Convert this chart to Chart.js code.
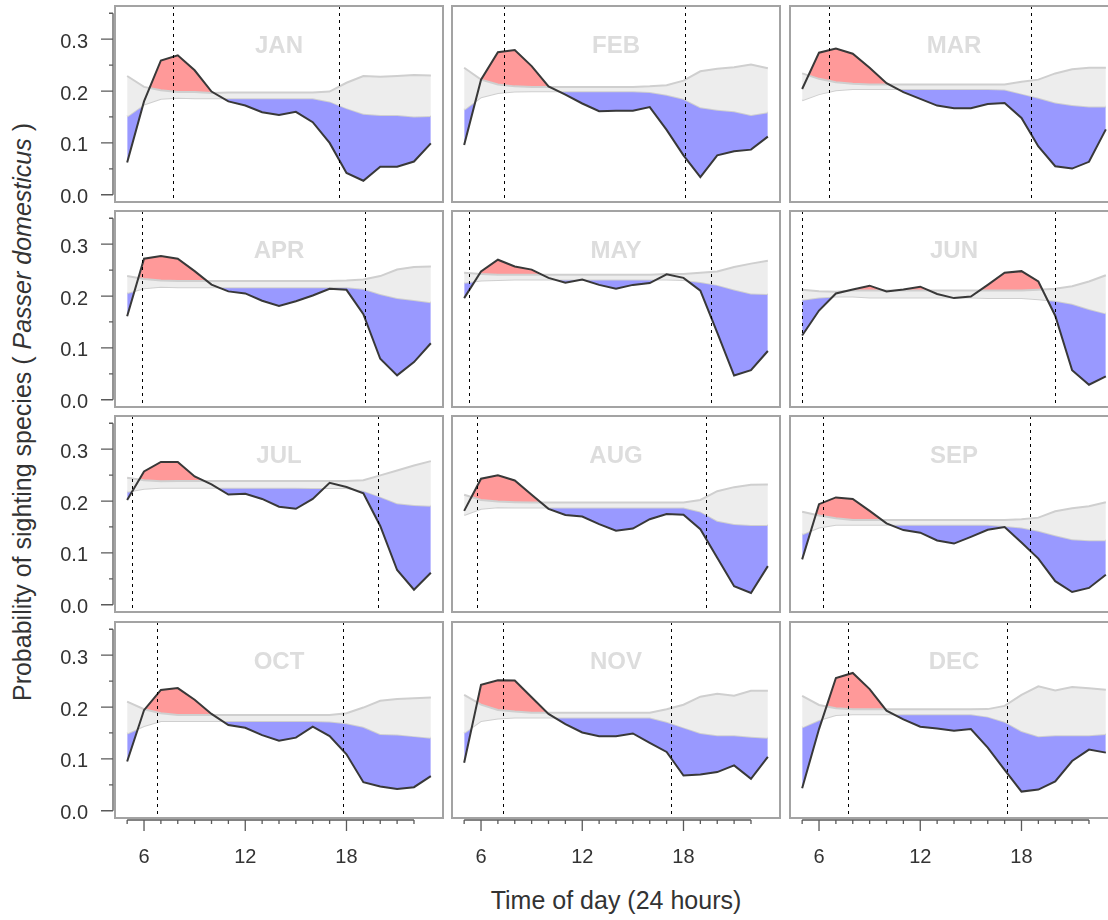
<!DOCTYPE html>
<html>
<head>
<meta charset="utf-8">
<script src="https://cdn.jsdelivr.net/npm/chart.js@4.4.1/dist/chart.umd.min.js"></script>
<style>
  html, body { margin: 0; padding: 0; background: #fff; overflow: hidden; }
  #wrap { position: relative; width: 1108px; height: 920px; overflow: hidden; }
  #wrap canvas { position: absolute; }
  .title { position: absolute; font-family: "Liberation Sans", Arial, sans-serif; font-size: 25px; color: #333; text-align: center; white-space: nowrap; }
  #xtitle { left: 316px; top: 888px; width: 600px; line-height: 25px; }
  #ytitle { left: -328px; top: 397px; width: 700px; height: 30px; line-height: 30px; transform: rotate(-90deg); }
</style>
</head>
<body>
<div id="wrap">
  <div class="title" id="xtitle">Time of day (24 hours)</div>
  <div class="title" id="ytitle">Probability of sighting species ( <i>Passer domesticus</i> )</div>
</div>
<script>
const hours = [5, 6, 7, 8, 9, 10, 11, 12, 13, 14, 15, 16, 17, 18, 19, 20, 21, 22, 23];
const months = ['JAN', 'FEB', 'MAR', 'APR', 'MAY', 'JUN', 'JUL', 'AUG', 'SEP', 'OCT', 'NOV', 'DEC'];
const sunrise = [7.69, 7.34, 6.6, 5.87, 5.26, 5.02, 5.26, 5.75, 6.23, 6.74, 7.28, 7.71];
const sunset = [17.54, 18.1, 18.57, 19.08, 19.62, 19.97, 19.86, 19.33, 18.53, 17.8, 17.25, 17.17];

const yMajor = [0, 0.1, 0.2, 0.3];
const yMinor = [0.05, 0.15, 0.25, 0.35];
const xMajor = [6, 12, 18];
const xMinor = [5, 7, 8, 9, 10, 11, 13, 14, 15, 16, 17, 19, 20, 21, 22];

// observed probability, and upper / lower limits of the null band
const obsJAN = [0.062, 0.18, 0.259, 0.269, 0.240, 0.199, 0.180, 0.172, 0.159, 0.154, 0.160, 0.140, 0.100, 0.042, 0.027, 0.054, 0.054, 0.064, 0.099];
const upJAN  = [0.229, 0.208, 0.2015, 0.198, 0.198, 0.196, 0.197, 0.197, 0.197, 0.197, 0.197, 0.197, 0.199, 0.216, 0.229, 0.2275, 0.229, 0.231, 0.230];
const loJAN  = [0.151, 0.174, 0.185, 0.187, 0.186, 0.186, 0.186, 0.186, 0.186, 0.186, 0.186, 0.186, 0.180, 0.167, 0.156, 0.154, 0.154, 0.151, 0.152];

const obsFEB = [0.096, 0.222, 0.275, 0.279, 0.248, 0.209, 0.193, 0.176, 0.161, 0.162, 0.162, 0.169, 0.125, 0.076, 0.034, 0.076, 0.084, 0.087, 0.112];
const upFEB  = [0.245, 0.222, 0.2125, 0.209, 0.208, 0.208, 0.208, 0.208, 0.208, 0.208, 0.208, 0.209, 0.211, 0.220, 0.238, 0.243, 0.246, 0.251, 0.244];
const loFEB  = [0.164, 0.188, 0.196, 0.199, 0.1995, 0.1995, 0.1995, 0.1995, 0.1995, 0.1995, 0.1995, 0.198, 0.193, 0.185, 0.1685, 0.164, 0.161, 0.154, 0.159];

const obsMAR = [0.204, 0.274, 0.282, 0.272, 0.245, 0.215, 0.198, 0.185, 0.172, 0.167, 0.167, 0.175, 0.177, 0.148, 0.093, 0.055, 0.0505, 0.0635, 0.126];
const upMAR  = [0.234, 0.2235, 0.217, 0.214, 0.2125, 0.2125, 0.2125, 0.2125, 0.2125, 0.2125, 0.2125, 0.2125, 0.2125, 0.218, 0.222, 0.234, 0.242, 0.245, 0.245];
const loMAR  = [0.182, 0.194, 0.2015, 0.204, 0.204, 0.204, 0.204, 0.204, 0.204, 0.204, 0.204, 0.204, 0.203, 0.195, 0.187, 0.178, 0.173, 0.170, 0.170];

const obsAPR = [0.161, 0.272, 0.277, 0.272, 0.248, 0.222, 0.209, 0.205, 0.191, 0.181, 0.190, 0.201, 0.214, 0.212, 0.165, 0.079, 0.047, 0.0726, 0.109];
const upAPR  = [0.2385, 0.233, 0.230, 0.229, 0.229, 0.229, 0.229, 0.229, 0.229, 0.229, 0.229, 0.229, 0.229, 0.230, 0.232, 0.2385, 0.251, 0.256, 0.257];
const loAPR  = [0.206, 0.215, 0.218, 0.217, 0.217, 0.217, 0.217, 0.217, 0.217, 0.217, 0.217, 0.217, 0.217, 0.217, 0.214, 0.204, 0.196, 0.1925, 0.188];

const obsMAY = [0.196, 0.2475, 0.270, 0.257, 0.251, 0.235, 0.2255, 0.232, 0.2215, 0.214, 0.2215, 0.225, 0.242, 0.235, 0.2105, 0.1296, 0.0467, 0.057, 0.094];
const upMAY  = [0.245, 0.2425, 0.241, 0.241, 0.241, 0.241, 0.241, 0.241, 0.241, 0.241, 0.241, 0.241, 0.2425, 0.2425, 0.245, 0.2475, 0.256, 0.2625, 0.268];
const loMAY  = [0.2255, 0.230, 0.231, 0.232, 0.232, 0.232, 0.232, 0.232, 0.232, 0.232, 0.232, 0.232, 0.232, 0.231, 0.227, 0.2215, 0.2125, 0.205, 0.204];

const obsJUN = [0.124, 0.172, 0.205, 0.2125, 0.220, 0.209, 0.2125, 0.218, 0.204, 0.196, 0.199, 0.2215, 0.245, 0.248, 0.228, 0.162, 0.057, 0.029, 0.045];
const upJUN  = [0.212, 0.209, 0.2085, 0.2105, 0.2105, 0.2105, 0.2105, 0.2105, 0.2105, 0.2105, 0.2105, 0.2105, 0.2105, 0.2105, 0.212, 0.214, 0.219, 0.228, 0.240];
const loJUN  = [0.193, 0.197, 0.199, 0.199, 0.197, 0.197, 0.197, 0.197, 0.197, 0.197, 0.197, 0.196, 0.196, 0.196, 0.194, 0.191, 0.185, 0.175, 0.1665];

const obsJUL = [0.202, 0.257, 0.2755, 0.2755, 0.2475, 0.232, 0.2125, 0.214, 0.204, 0.189, 0.185, 0.204, 0.235, 0.227, 0.215, 0.152, 0.067, 0.029, 0.0616];
const upJUL  = [0.245, 0.240, 0.238, 0.2385, 0.2385, 0.2385, 0.2385, 0.2385, 0.2385, 0.2385, 0.2385, 0.2385, 0.2385, 0.2385, 0.240, 0.2495, 0.259, 0.2686, 0.277];
const loJUL  = [0.218, 0.2235, 0.2255, 0.2255, 0.2255, 0.2255, 0.2255, 0.2255, 0.2255, 0.2255, 0.2255, 0.225, 0.225, 0.225, 0.220, 0.2085, 0.1955, 0.1925, 0.191];

const obsAUG = [0.181, 0.243, 0.2495, 0.2397, 0.212, 0.185, 0.173, 0.170, 0.1555, 0.1426, 0.147, 0.165, 0.175, 0.1737, 0.1458, 0.0907, 0.0356, 0.0227, 0.0745];
const upAUG  = [0.212, 0.202, 0.199, 0.1977, 0.197, 0.197, 0.197, 0.197, 0.197, 0.197, 0.197, 0.197, 0.197, 0.197, 0.202, 0.219, 0.2268, 0.2314, 0.232];
const loAUG  = [0.173, 0.185, 0.188, 0.1873, 0.1873, 0.1873, 0.1873, 0.1873, 0.1873, 0.1873, 0.1873, 0.1873, 0.1873, 0.1873, 0.180, 0.162, 0.1555, 0.1536, 0.1536];

const obsSEP = [0.0875, 0.194, 0.207, 0.204, 0.181, 0.157, 0.144, 0.139, 0.124, 0.118, 0.131, 0.1445, 0.150, 0.120, 0.089, 0.0454, 0.0246, 0.0324, 0.058];
const upSEP  = [0.1795, 0.172, 0.1666, 0.1633, 0.1633, 0.1633, 0.1633, 0.1633, 0.1633, 0.1633, 0.1633, 0.1633, 0.1633, 0.165, 0.168, 0.1803, 0.186, 0.190, 0.1977];
const loSEP  = [0.136, 0.149, 0.1542, 0.1542, 0.1542, 0.1542, 0.1542, 0.1542, 0.1542, 0.1542, 0.1542, 0.1542, 0.152, 0.149, 0.1426, 0.134, 0.1264, 0.1244, 0.1244];

const obsOCT = [0.095, 0.194, 0.233, 0.2366, 0.214, 0.1867, 0.1653, 0.160, 0.1458, 0.135, 0.141, 0.162, 0.1439, 0.1089, 0.0551, 0.0467, 0.0421, 0.0454, 0.0668];
const upOCT  = [0.2106, 0.1957, 0.188, 0.1847, 0.1847, 0.1847, 0.1847, 0.1847, 0.1847, 0.1847, 0.1847, 0.1847, 0.1847, 0.188, 0.199, 0.212, 0.2157, 0.217, 0.2184];
const loOCT  = [0.149, 0.1633, 0.173, 0.173, 0.173, 0.173, 0.173, 0.173, 0.173, 0.173, 0.173, 0.173, 0.172, 0.1685, 0.162, 0.1478, 0.147, 0.1439, 0.1406];

const obsNOV = [0.0927, 0.243, 0.2515, 0.251, 0.219, 0.1867, 0.167, 0.151, 0.1439, 0.1439, 0.149, 0.131, 0.1134, 0.068, 0.070, 0.0745, 0.0875, 0.0616, 0.1037];
const upNOV  = [0.2236, 0.2045, 0.1944, 0.1912, 0.189, 0.189, 0.189, 0.189, 0.189, 0.189, 0.189, 0.189, 0.1957, 0.2045, 0.220, 0.2255, 0.222, 0.2314, 0.2314];
const loNOV  = [0.150, 0.173, 0.178, 0.180, 0.180, 0.180, 0.180, 0.180, 0.180, 0.180, 0.180, 0.180, 0.1717, 0.1607, 0.150, 0.1458, 0.1458, 0.1426, 0.1406];

const obsDEC = [0.0434, 0.1575, 0.256, 0.2657, 0.2346, 0.193, 0.1763, 0.162, 0.1588, 0.1542, 0.1575, 0.1218, 0.079, 0.0369, 0.0408, 0.0564, 0.0959, 0.118, 0.1121];
const upDEC  = [0.2217, 0.204, 0.1977, 0.1957, 0.1957, 0.1957, 0.1957, 0.1957, 0.1957, 0.1957, 0.1957, 0.196, 0.2022, 0.2236, 0.2398, 0.232, 0.2385, 0.236, 0.2333];
const loDEC  = [0.1607, 0.175, 0.1847, 0.186, 0.186, 0.186, 0.186, 0.186, 0.186, 0.186, 0.186, 0.1815, 0.1717, 0.1536, 0.1439, 0.1458, 0.1458, 0.1458, 0.1478];

const observed = [obsJAN, obsFEB, obsMAR, obsAPR, obsMAY, obsJUN, obsJUL, obsAUG, obsSEP, obsOCT, obsNOV, obsDEC];
const upper = [upJAN, upFEB, upMAR, upAPR, upMAY, upJUN, upJUL, upAUG, upSEP, upOCT, upNOV, upDEC];
const lower = [loJAN, loFEB, loMAR, loAPR, loMAY, loJUN, loJUL, loAUG, loSEP, loOCT, loNOV, loDEC];

const FONT = '"Liberation Sans", Arial, sans-serif';
const colLeft = [115, 452, 790];
const rowTop = [6, 211, 416, 622];
const boxW = 328, boxH = 196;

const toXY = arr => arr.map((v, i) => ({ x: hours[i], y: v }));

// box, sunrise/sunset lines, month label and the outer axes
const panelDecor = {
    id: 'panelDecor',
    beforeDatasetsDraw(chart, args, opts) {
        const { ctx, chartArea: a } = chart;
        ctx.save();
        ctx.fillStyle = '#dddddd';
        ctx.font = 'bold 24px ' + FONT;
        ctx.textAlign = 'center';
        ctx.textBaseline = 'alphabetic';
        ctx.fillText(opts.label, (a.left + a.right) / 2, a.top + 47);
        ctx.restore();
    },
    afterDatasetsDraw(chart, args, opts) {
        const { ctx, chartArea: a, scales: { x, y } } = chart;
        ctx.save();
        ctx.strokeStyle = '#000';
        ctx.lineWidth = 1;
        ctx.setLineDash([3, 4]);
        [opts.rise, opts.set].forEach(h => {
            const px = Math.round(x.getPixelForValue(h)) + 0.5;
            ctx.beginPath();
            ctx.moveTo(px, a.top);
            ctx.lineTo(px, a.bottom);
            ctx.stroke();
        });
        ctx.setLineDash([]);

        ctx.strokeStyle = '#a3a3a3';
        ctx.lineWidth = 2;
        ctx.strokeRect(a.left, a.top, a.right - a.left, a.bottom - a.top);

        ctx.strokeStyle = '#5a5a5a';
        ctx.lineWidth = 1.3;
        ctx.fillStyle = '#333';
        ctx.font = '20px ' + FONT;
        if (opts.yAxis) {
            const ax = a.left - 2;
            ctx.beginPath();
            ctx.moveTo(ax, y.getPixelForValue(0));
            ctx.lineTo(ax, y.getPixelForValue(0.35));
            yMajor.forEach(v => { const py = y.getPixelForValue(v); ctx.moveTo(ax, py); ctx.lineTo(ax - 12, py); });
            yMinor.forEach(v => { const py = y.getPixelForValue(v); ctx.moveTo(ax, py); ctx.lineTo(ax - 4, py); });
            ctx.stroke();
            ctx.textAlign = 'right';
            ctx.textBaseline = 'alphabetic';
            yMajor.forEach(v => ctx.fillText(v.toFixed(1), ax - 25, y.getPixelForValue(v) + 8.5));
        }
        if (opts.xAxis) {
            const ay = a.bottom + 2;
            ctx.beginPath();
            ctx.moveTo(x.getPixelForValue(5), ay);
            ctx.lineTo(x.getPixelForValue(22), ay);
            xMajor.forEach(v => { const px = x.getPixelForValue(v); ctx.moveTo(px, ay); ctx.lineTo(px, ay + 11); });
            xMinor.forEach(v => { const px = x.getPixelForValue(v); ctx.moveTo(px, ay); ctx.lineTo(px, ay + 4); });
            ctx.stroke();
            ctx.textAlign = 'center';
            ctx.textBaseline = 'alphabetic';
            xMajor.forEach(v => ctx.fillText(String(v), x.getPixelForValue(v), a.bottom + 45));
        }
        ctx.restore();
    }
};

function makePanel(m) {
    const r = Math.floor(m / 3), c = m % 3;
    const pad = { left: c === 0 ? 115 : 6, top: 4, right: 4, bottom: r === 3 ? 60 : 4 };
    const canvas = document.createElement('canvas');
    canvas.width = boxW + pad.left + pad.right;
    canvas.height = boxH + pad.top + pad.bottom;
    canvas.style.left = (colLeft[c] - pad.left) + 'px';
    canvas.style.top = (rowTop[r] - pad.top) + 'px';
    canvas.style.width = canvas.width + 'px';
    canvas.style.height = canvas.height + 'px';
    document.getElementById('wrap').appendChild(canvas);

    const obs = toXY(observed[m]);
    new Chart(canvas.getContext('2d'), {
        type: 'line',
        data: {
            datasets: [
                { data: toXY(upper[m]), borderColor: '#cfcfcf', borderWidth: 2, backgroundColor: '#ededed', fill: 1, order: 1 },
                { data: toXY(lower[m]), borderColor: '#cfcfcf', borderWidth: 2, fill: false, order: 2 },
                { data: obs, borderWidth: 0, fill: { target: 0, above: '#ff9999', below: 'rgba(0,0,0,0)' }, order: 3 },
                { data: obs, borderWidth: 0, fill: { target: 1, above: 'rgba(0,0,0,0)', below: '#9999ff' }, order: 4 },
                { data: obs, borderColor: '#383838', borderWidth: 2, fill: false, order: 0 }
            ]
        },
        options: {
            responsive: false,
            animation: false,
            devicePixelRatio: 1,
            layout: { padding: pad },
            elements: { point: { radius: 0 }, line: { tension: 0 } },
            scales: {
                x: { type: 'linear', min: 4.28, max: 23.72, display: false },
                y: { type: 'linear', min: -0.014, max: 0.364, display: false }
            },
            plugins: {
                legend: { display: false },
                tooltip: { enabled: false },
                panelDecor: { label: months[m], rise: sunrise[m], set: sunset[m], yAxis: c === 0, xAxis: r === 3 }
            }
        },
        plugins: [panelDecor]
    });
}

months.forEach((_, m) => makePanel(m));
</script>
</body>
</html>
